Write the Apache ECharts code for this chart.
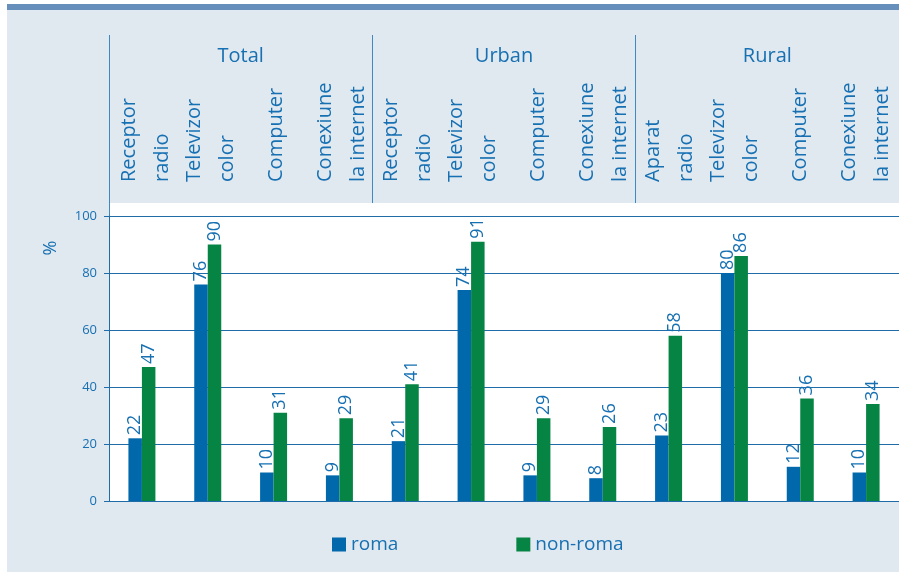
<!DOCTYPE html>
<html>
<head>
<meta charset="utf-8">
<script src="https://cdn.jsdelivr.net/npm/echarts@6/dist/echarts.min.js"></script>
<style>
html,body{margin:0;padding:0;background:#fff;}
#chart{width:899px;height:573px;}
</style>
</head>
<body>
<div id="chart"></div>
<script>
const categories = ['Receptor\nradio','Televizor\ncolor','Computer','Conexiune\nla internet',
                    'Receptor\nradio','Televizor\ncolor','Computer','Conexiune\nla internet',
                    'Aparat\nradio','Televizor\ncolor','Computer','Conexiune\nla internet'];
const groups = ['Total','Urban','Rural'];
const roma    = [22, 76, 10, 9, 21, 74, 9, 8, 23, 80, 12, 10];
const nonRoma = [47, 90, 31, 29, 41, 91, 29, 26, 58, 86, 36, 34];
const yMin = 0, yMax = 100, yStep = 20;
const seriesNames = ['roma', 'non-roma'];

const TXT = '#1670b2';
const LINE = '#1f6ca8';
const FONT = '"Open Sans", "Noto Sans", sans-serif';

const chart = echarts.init(document.getElementById('chart'), null, {renderer: 'canvas'});

const barLabel = {
  show: true, position: 'top', rotate: 90, align: 'left', verticalAlign: 'middle',
  distance: 7, offset: [-4, 0], fontSize: 18, color: TXT, fontFamily: FONT
};

chart.setOption({
  animation: false,
  textStyle: {fontFamily: FONT},
  graphic: [
    {type: 'rect', z: -100, shape: {x: 7, y: 4, width: 892, height: 568}, style: {fill: '#e0e8f0'}},
    {type: 'rect', z: -99, shape: {x: 7, y: 4, width: 892, height: 6}, style: {fill: '#6690bb'}},
    {type: 'rect', z: -98, shape: {x: 109, y: 203, width: 790, height: 298}, style: {fill: '#ffffff'}},
    {type: 'line', z: -97, shape: {x1: 109.5, y1: 203, x2: 109.5, y2: 216}, style: {stroke: '#3f88c2', lineWidth: 1}},
    {type: 'text', x: 51, y: 248, rotation: Math.PI / 2,
     style: {text: '%', fill: TXT, font: '18px ' + FONT, align: 'center', verticalAlign: 'middle'}}
  ],
  grid: [
    {left: 109, top: 216, width: 790, height: 285},
    {left: 113, top: 35, width: 790, height: 168},
    {left: 109, top: 35, width: 790, height: 168}
  ],
  legend: {
    data: seriesNames, left: 327, top: 530, icon: 'rect', itemWidth: 14, itemHeight: 14,
    itemGap: 118, textStyle: {color: TXT, fontSize: 19, fontFamily: FONT}
  },
  xAxis: [
    {gridIndex: 0, type: 'category', data: categories,
     axisLine: {show: true, lineStyle: {color: LINE, width: 1}},
     axisTick: {show: false}, axisLabel: {show: false}, splitLine: {show: false}},
    {gridIndex: 1, type: 'category', data: categories, position: 'bottom',
     axisLine: {show: false}, axisTick: {show: false}, splitLine: {show: false},
     axisLabel: {show: true, inside: true, rotate: 90, margin: 21, interval: 0,
                 fontSize: 20, lineHeight: 33, color: TXT, fontFamily: FONT}},
    {gridIndex: 2, type: 'category', data: groups, position: 'top',
     axisLine: {show: false}, axisTick: {show: false},
     splitLine: {show: true, lineStyle: {color: '#3f88c2', width: 1}},
     axisLabel: {show: true, inside: true, margin: 11, interval: 0,
                 fontSize: 20, color: TXT, fontFamily: FONT}}
  ],
  yAxis: [
    {gridIndex: 0, type: 'value', min: yMin, max: yMax, interval: yStep,
     axisLine: {show: true, lineStyle: {color: LINE, width: 1}},
     axisTick: {show: true, length: 5, lineStyle: {color: LINE}},
     axisLabel: {margin: 12, fontSize: 13, color: TXT, fontFamily: FONT},
     splitLine: {show: true, lineStyle: {color: LINE, width: 1}}},
    {gridIndex: 1, type: 'value', show: false},
    {gridIndex: 2, type: 'value', show: false}
  ],
  series: [
    {name: seriesNames[0], type: 'bar', xAxisIndex: 0, yAxisIndex: 0, data: roma,
     barWidth: 13.5, barGap: '0%', itemStyle: {color: '#0068ab'}, label: barLabel},
    {name: seriesNames[1], type: 'bar', xAxisIndex: 0, yAxisIndex: 0, data: nonRoma,
     barWidth: 13.5, barGap: '0%', itemStyle: {color: '#068444'}, label: barLabel}
  ]
});
</script>
</body>
</html>
